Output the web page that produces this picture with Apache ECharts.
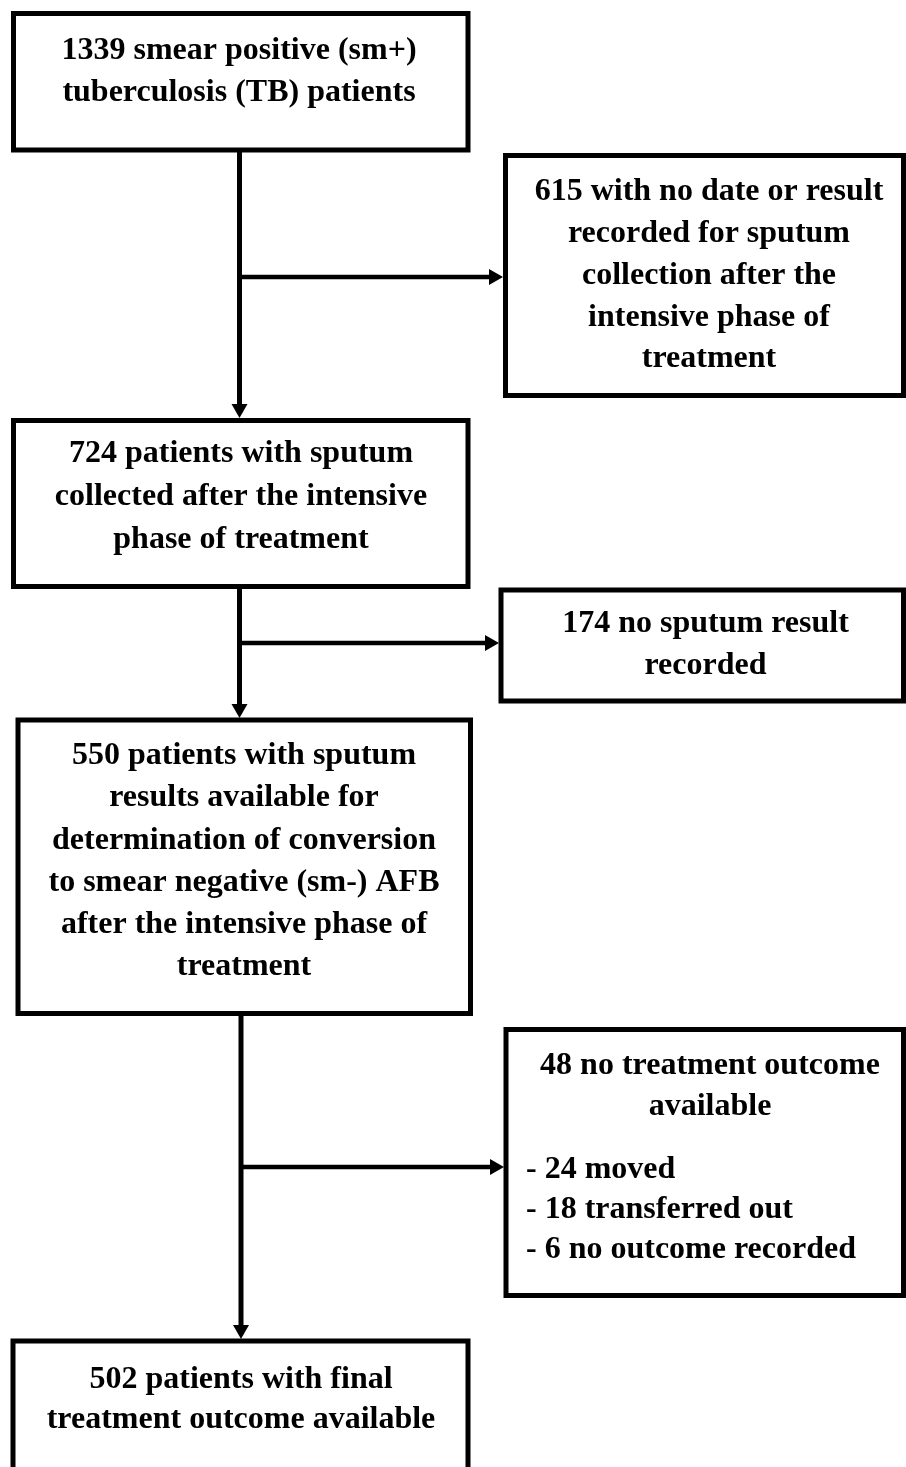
<!DOCTYPE html>
<html>
<head>
<meta charset="utf-8">
<script src="https://cdn.jsdelivr.net/npm/echarts@6/dist/echarts.min.js"></script>
<style>
    html, body { margin: 0; padding: 0; background: #fff; }
    #flow_chart_con { width: 906px; height: 1467px; }
</style>
</head>
<body>
<div id="flow_chart_con"></div>
<script>
    // main column texts (top to bottom)
    var mainTexts = [
        ['1339 smear positive (sm+)', 'tuberculosis (TB) patients'],
        ['724 patients with sputum', 'collected after the intensive', 'phase of treatment'],
        ['550 patients with sputum', 'results available for', 'determination of conversion',
            'to smear negative (sm-) AFB', 'after the intensive phase of', 'treatment'],
        ['502 patients with final', 'treatment outcome available']
    ];
    // exclusion boxes on the right
    var sideTexts = [
        ['615 with no date or result', 'recorded for sputum', 'collection after the',
            'intensive phase of', 'treatment'],
        ['174 no sputum result', 'recorded'],
        ['48 no treatment outcome', 'available']
    ];
    var lostItems = ['- 24 moved', '- 18 transferred out', '- 6 no outcome recorded'];

    // layout (pixels)
    var mainBoxes = [
        {x: 13.5, y: 13.5, w: 454.5, h: 136.5, tx: 239, ty: 51, lh: 42},
        {x: 13.5, y: 420.5, w: 454.5, h: 166, tx: 241, ty: 454, lh: 43},
        {x: 18, y: 720, w: 452.5, h: 293.5, tx: 244, ty: 756, lh: 42.2},
        {x: 13, y: 1341, w: 455, h: 140, tx: 241, ty: 1380, lh: 40}
    ];
    var sideBoxes = [
        {x: 505.5, y: 155.5, w: 398, h: 240, tx: 709, ty: 192, lh: 41.8},
        {x: 501, y: 590, w: 402.5, h: 111, tx: 705.5, ty: 624, lh: 42},
        {x: 506, y: 1029.5, w: 397.5, h: 266, tx: 710, ty: 1066, lh: 41}
    ];
    var listPos = {x: 526, ty: 1170, lh: 40};
    var flows = [
        {x: 239.5, y0: 150, y1: 418, by: 277, bx: 503},
        {x: 239.5, y0: 586, y1: 718, by: 643, bx: 499},
        {x: 241, y0: 1013, y1: 1339, by: 1167, bx: 504}
    ];

    var font = {fontFamily: 'Liberation Serif', fontWeight: 'bold', fontSize: 32, fill: '#000'};
    var elements = [];

    function addBox(b, lines) {
        elements.push({
            type: 'rect',
            shape: {x: b.x, y: b.y, width: b.w, height: b.h},
            style: {fill: '#fff', stroke: '#000', lineWidth: 5},
            z: 1
        });
        elements.push({
            type: 'text',
            x: b.tx,
            y: b.ty - b.lh / 2,
            style: Object.assign({
                text: lines.join('\n'),
                lineHeight: b.lh,
                align: 'center',
                verticalAlign: 'top'
            }, font),
            z: 2
        });
    }

    mainBoxes.forEach(function (b, i) { addBox(b, mainTexts[i]); });
    sideBoxes.forEach(function (b, i) { addBox(b, sideTexts[i]); });

    elements.push({
        type: 'text',
        x: listPos.x,
        y: listPos.ty - listPos.lh / 2,
        style: Object.assign({
            text: lostItems.join('\n'),
            lineHeight: listPos.lh,
            align: 'left',
            verticalAlign: 'top'
        }, font),
        z: 2
    });

    flows.forEach(function (f) {
        var head = 14, half = 8;
        elements.push({
            type: 'polyline',
            shape: {points: [[f.x, f.y0], [f.x, f.y1 - head + 1]]},
            style: {stroke: '#000', lineWidth: 5},
            z: 0
        });
        elements.push({
            type: 'polygon',
            shape: {points: [[f.x, f.y1], [f.x - half, f.y1 - head], [f.x + half, f.y1 - head]]},
            style: {fill: '#000'},
            z: 3
        });
        elements.push({
            type: 'polyline',
            shape: {points: [[f.x, f.by], [f.bx - head + 1, f.by]]},
            style: {stroke: '#000', lineWidth: 4.5},
            z: 0
        });
        elements.push({
            type: 'polygon',
            shape: {points: [[f.bx, f.by], [f.bx - head, f.by - half], [f.bx - head, f.by + half]]},
            style: {fill: '#000'},
            z: 3
        });
    });

    var flowChart = echarts.init(document.getElementById('flow_chart_con'));
    flowChart.setOption({
        backgroundColor: '#fff',
        animation: false,
        graphic: {elements: elements}
    });
    window.addEventListener('resize', function () {
        flowChart.resize();
    });
</script>
</body>
</html>
